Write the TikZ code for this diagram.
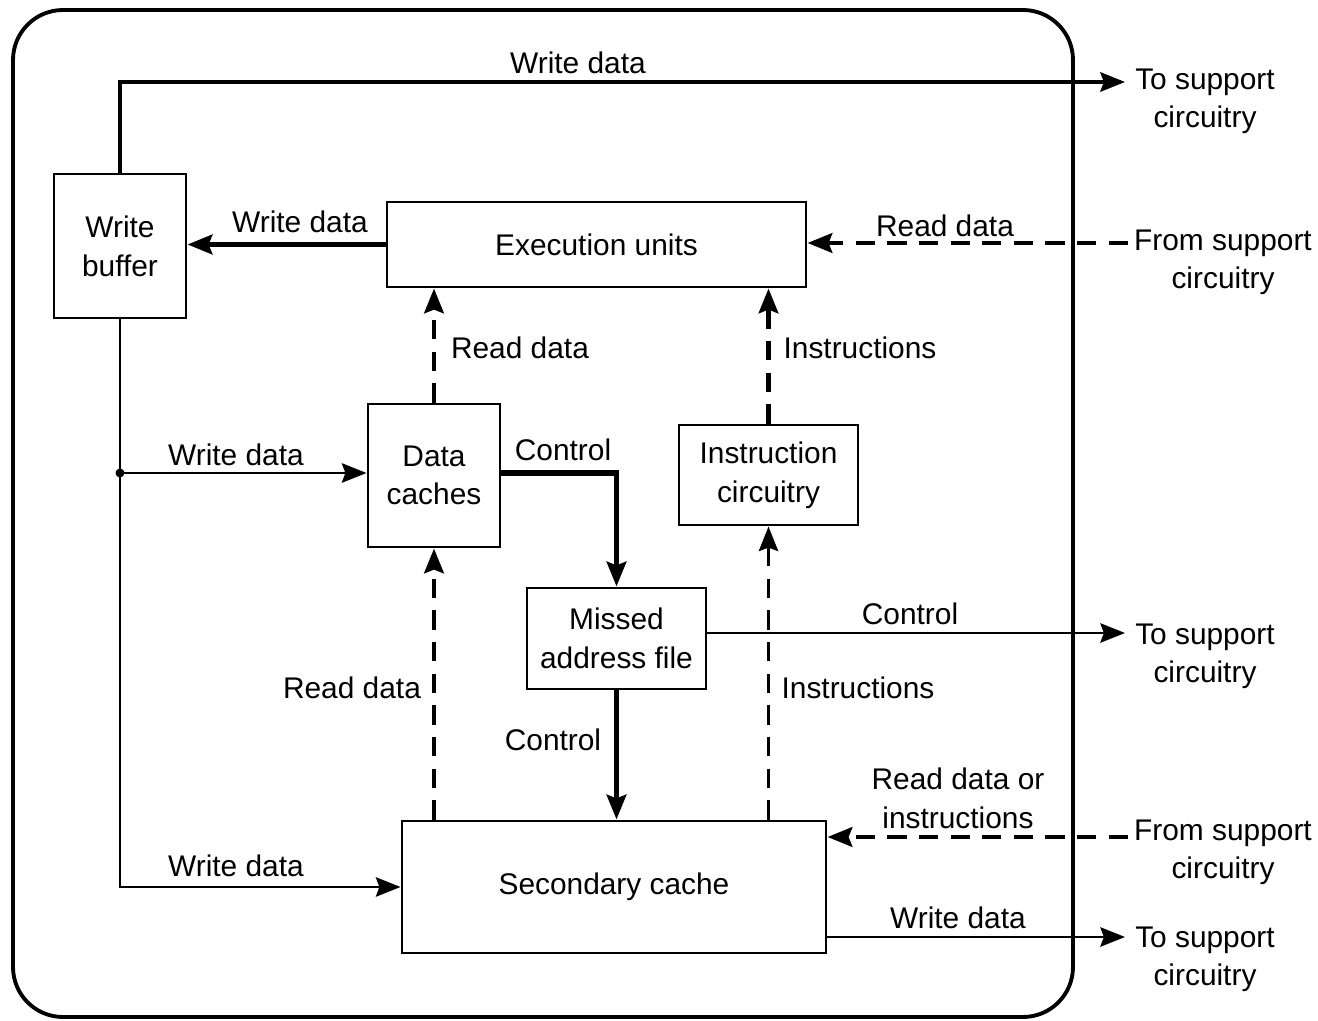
\documentclass[tikz,border=0pt]{standalone}
\usepackage{fontspec}
\setmainfont{Liberation Sans}
\usetikzlibrary{arrows.meta}
\begin{document}
\begin{tikzpicture}[>={Stealth[length=7pt,width=5.5pt,inset=1pt]},
    font=\fontsize{8.5pt}{11pt}\selectfont,
    unit/.style={draw, line width=0.85pt, align=center, inner sep=0pt},
    lbl/.style={inner sep=0pt, align=center},
    ext/.style={inner sep=0pt, align=center, anchor=north},
    heavy/.style={line width=1.6pt},
    light/.style={line width=0.75pt},
    rdash/.style={line width=1.4pt, dash pattern=on 5.5pt off 3.5pt},
    ldash/.style={line width=0.85pt, dash pattern=on 5.5pt off 3.5pt}]
    \useasboundingbox (0,0) rectangle (13.18,10.21);
    \draw[line width=1.1pt, rounded corners=0.5cm](0.13,0.04) rectangle (10.73,10.11);
    % units
    \node[unit, minimum width=1.32cm, minimum height=1.44cm] (wbuf) at (1.20,7.75) {Write\\buffer};
    \node[unit, minimum width=4.19cm, minimum height=0.85cm] (exec) at (5.965,7.765) {Execution units};
    \node[unit, minimum width=1.32cm, minimum height=1.43cm] (dcache) at (4.34,5.455) {Data\\caches};
    \node[unit, minimum width=1.79cm, minimum height=1.00cm] (icirc) at (7.685,5.46) {Instruction\\circuitry};
    \node[unit, minimum width=1.79cm, minimum height=1.01cm] (maf) at (6.165,3.825) {Missed\\address file};
    \node[unit, minimum width=4.24cm, minimum height=1.32cm] (scache) at (6.14,1.34) {Secondary cache};
    % outside
    \node[ext] (to1) at (12.05,9.53) {To support\\circuitry};
    \node[ext] (from1) at (12.23,7.92) {From support\\circuitry};
    \node[ext] (to2) at (12.05,3.98) {To support\\circuitry};
    \node[ext] (from2) at (12.23,2.02) {From support\\circuitry};
    \node[ext] (to3) at (12.05,0.95) {To support\\circuitry};
    \coordinate (t1) at (11.25,9.39);
    \coordinate (f1) at (11.28,7.78);
    \coordinate (t2) at (11.25,3.88);
    \coordinate (f2) at (11.28,1.84);
    \coordinate (t3) at (11.25,0.84);
    \coordinate (j) at (1.20,5.48);
    % connectors
    \draw[->, line width=1.1pt](wbuf.north) |- (t1);
    \draw[->, heavy](exec.west) -- (wbuf.east |- exec.west);
    \draw[->, rdash](f1) -- (exec.east |- f1);
    \draw[->, rdash](dcache.north) -- (dcache.north |- exec.south);
    \draw[->, rdash](icirc.north) -- (icirc.north |- exec.south);
    \draw[->, light](wbuf.south) |- (scache.west);
    \fill (j) circle (0.045);
    \draw[->, light](j) -- (dcache.west |- j);
    \draw[->, line width=1.7pt](dcache.east |- j) -| (maf.north);
    \draw[->, light](maf.east |- t2) -- (t2);
    \draw[->, line width=1.7pt](maf.south) -- (maf.south |- scache.north);
    \draw[->, rdash](dcache.south |- scache.north) -- (dcache.south);
    \draw[->, ldash](icirc.south |- scache.north) -- (icirc.south);
    \draw[->, rdash](f2) -- (scache.east |- f2);
    \draw[->, light](scache.east |- t3) -- (t3);
    % labels
    \node[lbl] (lw1) at (5.78,9.58) {Write data};
    \node[lbl] (lw2) at (3.00,7.99) {Write data};
    \node[lbl] (lr1) at (9.45,7.95) {Read data};
    \node[lbl] (lr2) at (5.20,6.73) {Read data};
    \node[lbl] (li1) at (8.60,6.73) {Instructions};
    \node[lbl] (lw3) at (2.36,5.66) {Write data};
    \node[lbl] (lc1) at (5.63,5.71) {Control};
    \node[lbl] (lc2) at (9.10,4.07) {Control};
    \node[lbl] (lr3) at (3.52,3.33) {Read data};
    \node[lbl] (li2) at (8.58,3.33) {Instructions};
    \node[lbl] (lc3) at (5.53,2.81) {Control};
    \node[lbl] (lr4) at (9.58,2.23) {Read data or\\instructions};
    \node[lbl] (lw4) at (2.36,1.55) {Write data};
    \node[lbl] (lw5) at (9.58,1.03) {Write data};
\end{tikzpicture}
\end{document}
